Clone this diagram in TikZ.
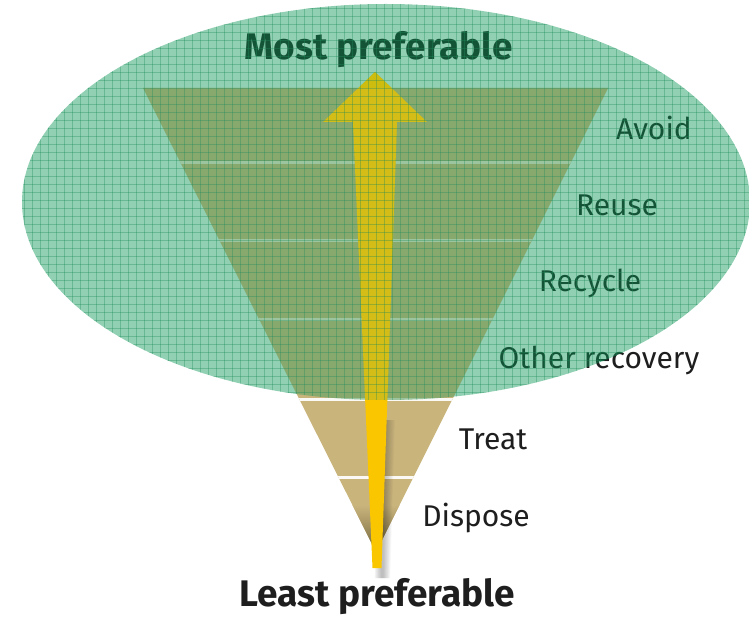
\documentclass[tikz,border=0pt]{standalone}
\usepackage{fontspec}
\setmainfont{Fira Sans}
\definecolor{tan}{RGB}{201,180,124}
\definecolor{tandark}{RGB}{110,98,58}
\definecolor{ovalgreen}{RGB}{10,150,85}
\definecolor{gridgreen}{RGB}{30,140,90}
\definecolor{arrowyellow}{RGB}{250,198,0}
\definecolor{textgray}{RGB}{30,30,30}

\begin{document}
\begin{tikzpicture}[x=1pt,y=-1pt,
  lvl/.style={text=textgray, font=\fontsize{30}{34}\selectfont, inner sep=0pt},
  heading/.style={text=textgray, font=\fontsize{37}{40}\selectfont\bfseries, inner sep=0pt},
  gridline/.style={gridgreen, line width=0.6, opacity=0.35}]

  \useasboundingbox (0,0) rectangle (749,617);

  %pyramide
  \fill[tan] (143,88) -- (608,88) -- (376,552) -- cycle;
  \begin{scope}
    \clip (143,88) -- (608,88) -- (376,552) -- cycle;
    \shade[top color=tan, bottom color=tandark] (300,505) rectangle (450,555);
    \foreach \y in {163,241,320,399,477}
      \draw[white!92!tan, line width=3] (100,\y) -- (650,\y);
  \end{scope}

  %ombre
  \foreach \d in {1,...,12}
    \fill[black, opacity=0.025] (383+\d,420) -- (383+0.6*\d,578) -- (374+0.6*\d,578) -- (376,420) -- cycle;

  %fleche
  \fill[arrowyellow] (375,72) -- (427,122) -- (397,122) -- (381.5,568)
    -- (372.5,568) -- (353,122) -- (323,122) -- cycle;

  %texte
  \node[heading] (most) at (379,50) {Most preferable};
  \node[heading] (least) at (377,597) {Least preferable};
  \node[lvl] (avoid) at (654,128) {Avoid};
  \node[lvl] (reuse) at (617,205) {Reuse};
  \node[lvl] (recycle) at (590,283) {Recycle};
  \node[lvl] (other) at (599,360) {Other recovery};
  \node[lvl] (treat) at (493,439) {Treat};
  \node[lvl] (dispose) at (476,518) {Dispose};

  %ovale
  \fill[ovalgreen, opacity=0.45] (386,202) ellipse [x radius=364, y radius=198];
  \begin{scope}
    \clip (386,202) ellipse [x radius=364, y radius=198];
    \fill[tan, opacity=0.25] (143,88) -- (608,88) -- (376,552) -- cycle;
    \fill[arrowyellow, opacity=0.6] (375,72) -- (427,122) -- (397,122) -- (381.5,568)
      -- (372.5,568) -- (353,122) -- (323,122) -- cycle;
    \foreach \g in {0,8,...,760}
      \draw[gridline] (\g,0) -- (\g,410);
    \foreach \g in {0,8,...,408}
      \draw[gridline] (0,\g) -- (760,\g);
  \end{scope}
\end{tikzpicture}
\end{document}
